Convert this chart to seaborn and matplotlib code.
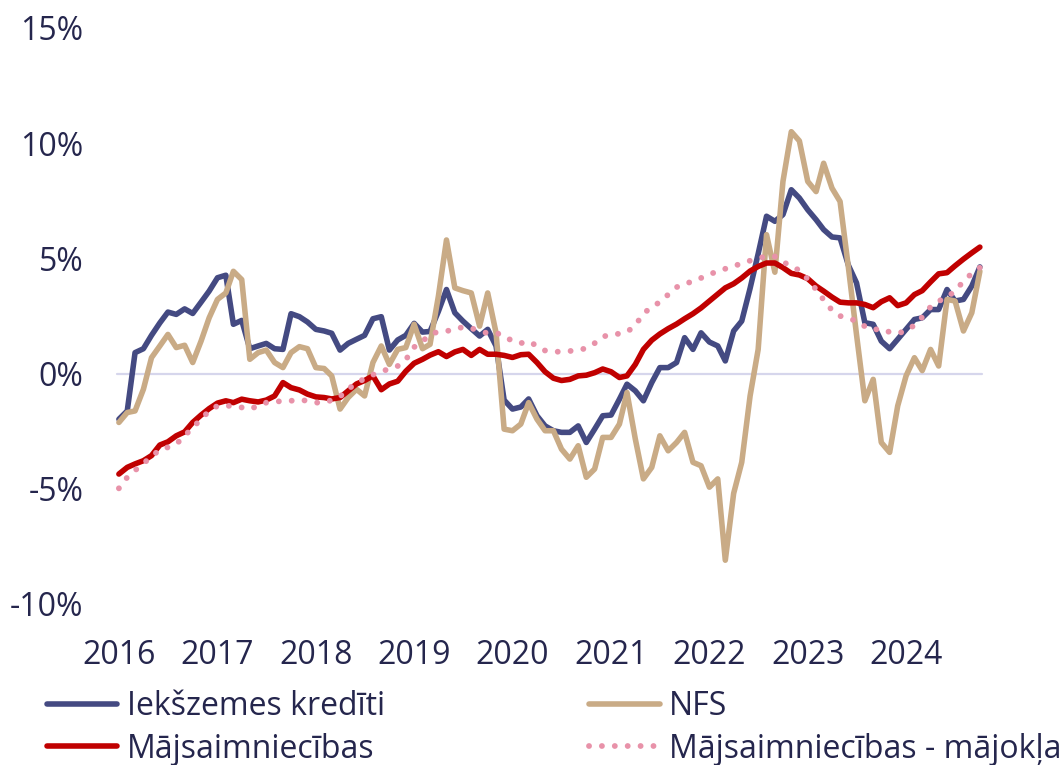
import pandas as pd
import matplotlib
matplotlib.use("Agg")
import matplotlib.pyplot as plt
import matplotlib.dates as mdates
import seaborn as sns

# monthly year-on-year growth, %, Jan 2016 - Oct 2024
months = pd.date_range("2016-01-01", periods=106, freq="MS")

iekszemes = [
    -1.98, -1.62, 0.91, 1.08, 1.66, 2.2, 2.67, 2.57, 2.81, 2.61, 3.1, 3.58,
    4.16, 4.27, 2.14, 2.31, 1.08, 1.2, 1.31, 1.08, 1.05, 2.6, 2.47, 2.24,
    1.92, 1.85, 1.75, 1.02, 1.31, 1.49, 1.66, 2.38, 2.47, 1.02, 1.46, 1.66,
    2.18, 1.8, 1.83, 2.7, 3.65, 2.64, 2.28, 1.95, 1.63, 1.92, 1.2, -1.15,
    -1.54, -1.45, -1.1, -1.83, -2.27, -2.48, -2.55, -2.55, -2.27, -2.99, -2.41, -1.83,
    -1.8, -1.11, -0.46, -0.75, -1.18, -0.39, 0.26, 0.26, 0.48, 1.56, 1.05, 1.77,
    1.37, 1.2, 0.55, 1.85, 2.28, 3.7, 5.2, 6.83, 6.61, 6.9, 7.98, 7.62,
    7.11, 6.68, 6.25, 5.93, 5.89, 4.7, 3.94, 2.21, 2.14, 1.41, 1.08, 1.49,
    1.92, 2.35, 2.42, 2.78, 2.78, 3.65, 3.15, 3.22, 3.8, 4.63,
]

nfs = [
    -2.12, -1.69, -1.62, -0.68, 0.69, 1.2, 1.7, 1.13, 1.23, 0.48, 1.41, 2.42,
    3.22, 3.5, 4.44, 4.08, 0.62, 0.91, 1.02, 0.48, 0.26, 0.91, 1.17, 1.08,
    0.26, 0.22, -0.1, -1.54, -1.04, -0.68, -0.97, 0.48, 1.2, 0.4, 1.05, 1.13,
    2.14, 1.08, 1.27, 3.36, 5.8, 3.72, 3.6, 3.5, 2.06, 3.5, 1.77, -2.41,
    -2.48, -2.19, -1.26, -1.98, -2.48, -2.48, -3.28, -3.71, -3.13, -4.5, -4.14, -2.77,
    -2.77, -2.19, -0.82, -2.84, -4.57, -4.07, -2.7, -3.35, -2.99, -2.55, -3.85, -4.0,
    -4.93, -4.57, -8.1, -5.2, -3.85, -0.97, 1.05, 6.03, 4.4, 8.34, 10.5, 10.1,
    8.34, 7.9, 9.13, 8.05, 7.47, 4.6, 1.7, -1.18, -0.25, -2.99, -3.42, -1.4,
    -0.1, 0.69, 0.13, 1.05, 0.33, 3.22, 3.15, 1.85, 2.64, 4.44,
]

majsaimniecibas = [
    -4.36, -4.07, -3.92, -3.78, -3.56, -3.1, -2.96, -2.7, -2.53, -2.12, -1.8, -1.52,
    -1.28, -1.18, -1.26, -1.11, -1.18, -1.23, -1.15, -0.97, -0.39, -0.61, -0.71, -0.89,
    -1.01, -1.04, -1.1, -1.04, -0.75, -0.45, -0.3, -0.1, -0.7, -0.45, -0.33, 0.1,
    0.45, 0.62, 0.8, 0.95, 0.74, 0.94, 1.05, 0.79, 1.05, 0.84, 0.84, 0.79,
    0.7, 0.82, 0.84, 0.48, 0.08, -0.2, -0.3, -0.25, -0.1, -0.07, 0.04, 0.2,
    0.08, -0.17, -0.1, 0.4, 1.05, 1.45, 1.72, 1.95, 2.15, 2.38, 2.6, 2.85,
    3.15, 3.45, 3.72, 3.9, 4.15, 4.45, 4.65, 4.8, 4.8, 4.6, 4.35, 4.28,
    4.12, 3.8, 3.58, 3.32, 3.1, 3.07, 3.07, 3.0, 2.86, 3.12, 3.29, 2.95,
    3.07, 3.43, 3.6, 3.98, 4.33, 4.38, 4.68, 4.97, 5.24, 5.49,
]

majoklis = [
    -4.98, -4.5, -4.2, -3.9, -3.6, -3.3, -3.2, -3.06, -2.7, -2.34, -1.98, -1.62,
    -1.4, -1.4, -1.4, -1.47, -1.54, -1.4, -1.26, -1.23, -1.18, -1.18, -1.14, -1.18,
    -1.26, -1.26, -1.15, -1.0, -0.65, -0.45, -0.2, -0.05, 0.1, 0.2, 0.33, 0.6,
    1.15, 1.4, 1.7, 1.82, 1.85, 1.9, 2.03, 1.97, 1.85, 1.75, 1.76, 1.65,
    1.4, 1.32, 1.4, 1.2, 1.0, 0.95, 0.95, 0.98, 1.02, 1.1, 1.32, 1.6,
    1.7, 1.73, 1.8, 2.1, 2.6, 2.9, 3.1, 3.43, 3.75, 3.9, 4.0, 4.15,
    4.3, 4.45, 4.55, 4.65, 4.8, 4.9, 5.0, 5.1, 5.08, 4.85, 4.66, 4.48,
    4.1, 3.65, 3.2, 2.75, 2.5, 2.4, 2.28, 2.05, 1.9, 1.95, 1.8, 1.75,
    1.85, 2.1, 2.45, 2.9, 3.15, 3.3, 3.6, 4.0, 4.35, 4.6,
]

labels = ["Iekšzemes kredīti", "NFS", "Mājsaimniecības", "Mājsaimniecības - mājokļa"]
colors = ["#444A82", "#C9AB86", "#C00000", "#E892A9"]
text_color = "#25264D"

sns.set_style("white")
plt.rcParams["font.family"] = ["Open Sans", "DejaVu Sans"]

fig = plt.figure(figsize=(10.63, 7.65), dpi=100)
ax = fig.add_axes([110 / 1063, 1 - 604 / 765, 875 / 1063, 576 / 765])

# zero line only over the data range
ax.axhline(0, xmin=0.008, xmax=0.997, color="#D6D6EC", lw=1.6, zorder=1)

series = [iekszemes, nfs, majsaimniecibas, majoklis]
for vals, lab, col in zip(series, labels, colors):
    if lab.endswith("mājokļa"):
        sns.lineplot(x=months, y=vals, ax=ax, color=col, lw=4.2, label=lab,
                     linestyle=(0, (0.01, 2.2)), dash_capstyle="round", zorder=3)
    else:
        sns.lineplot(x=months, y=vals, ax=ax, color=col, lw=4.0, label=lab,
                     solid_capstyle="round", solid_joinstyle="round", zorder=2)

ax.set_ylim(-10, 15)
ax.set_yticks([-10, -5, 0, 5, 10, 15])
ax.set_yticklabels(["-10%", "-5%", "0%", "5%", "10%", "15%"])
ax.set_xlim(months[0] - pd.Timedelta(days=33), months[-1] + pd.Timedelta(days=19))
ax.xaxis.set_major_locator(mdates.YearLocator())
ax.xaxis.set_major_formatter(mdates.DateFormatter("%Y"))
ax.tick_params(axis="y", length=0, pad=19, labelsize=23, labelcolor=text_color)
ax.tick_params(axis="x", length=0, pad=25, labelsize=23, labelcolor=text_color)
ax.set_xlabel("")
ax.set_ylabel("")
for s in ax.spines.values():
    s.set_visible(False)

h, l = ax.get_legend_handles_labels()
order = [0, 2, 1, 3]
ax.legend([h[i] for i in order], [l[i] for i in order], ncol=2,
          loc="upper left", bbox_to_anchor=(47 / 1063, 1 - 690 / 765),
          bbox_transform=fig.transFigure, frameon=False, fontsize=23,
          labelcolor=text_color, handlelength=2.2, handletextpad=0.3,
          columnspacing=6.4, labelspacing=0.3, borderpad=0, borderaxespad=0)

fig.savefig("out.png", dpi=100)
